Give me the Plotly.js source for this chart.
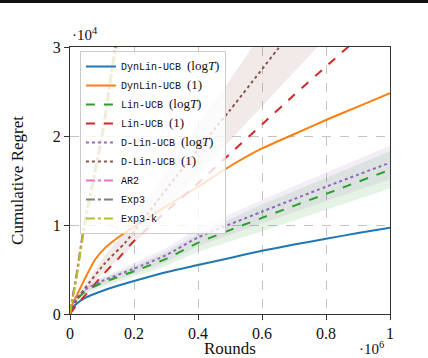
<!DOCTYPE html>
<html>
<head>
<meta charset="utf-8">
<script src="https://cdn.plot.ly/plotly-3.0.1.min.js"></script>
<style>
  body { margin: 0; background: #fff; }
  #chart { width: 428px; height: 358px; }
</style>
</head>
<body>
<div id="chart"></div>
<script>
// rounds in units of 1e6, regret in units of 1e4
var xBlue = [0, 0.005, 0.016, 0.047, 0.109, 0.2, 0.3, 0.4, 0.5, 0.6, 0.7, 0.8, 0.9, 1.0];
var yBlue = [0, 0.05, 0.10, 0.18, 0.27, 0.37, 0.47, 0.55, 0.63, 0.71, 0.78, 0.845, 0.91, 0.97];

var xOrange = [0, 0.005, 0.02, 0.047, 0.078, 0.109, 0.15, 0.2, 0.3, 0.4, 0.5, 0.6, 0.7, 0.8, 0.9, 1.0];
var yOrange = [0, 0.09, 0.20, 0.40, 0.61, 0.74, 0.86, 0.98, 1.21, 1.43, 1.66, 1.86, 2.02, 2.18, 2.33, 2.48];

var xLin = [0, 0.005, 0.02, 0.05, 0.1, 0.2, 0.3, 0.4, 0.6, 0.8, 1.0];
var yGreen = [0, 0.07, 0.16, 0.26, 0.35, 0.48, 0.62, 0.80, 1.08, 1.35, 1.62];
var greenLow = [0, 0.06, 0.14, 0.23, 0.30, 0.42, 0.54, 0.70, 0.93, 1.17, 1.41];
var greenHigh = [0, 0.08, 0.18, 0.29, 0.40, 0.54, 0.70, 0.90, 1.23, 1.53, 1.83];

var yPurple = [0, 0.08, 0.18, 0.28, 0.37, 0.51, 0.66, 0.86, 1.15, 1.43, 1.70];
var purpleLow = [0, 0.07, 0.16, 0.25, 0.33, 0.45, 0.58, 0.76, 1.02, 1.27, 1.51];
var purpleHigh = [0, 0.09, 0.20, 0.31, 0.41, 0.57, 0.74, 0.96, 1.28, 1.59, 1.89];

var xRed = [0, 0.02, 0.05, 0.1, 0.15, 0.2, 0.3, 0.4, 0.5, 0.6, 0.7, 0.8, 0.9, 1.0];
var yRed = [0, 0.10, 0.22, 0.43, 0.62, 0.82, 1.15, 1.47, 1.80, 2.13, 2.46, 2.78, 3.10, 3.42];

var xBrown = [0, 0.02, 0.047, 0.109, 0.172, 0.22, 0.35, 0.5, 0.65, 0.8, 1.0];
var yBrown = [0, 0.15, 0.29, 0.57, 0.80, 1.02, 1.63, 2.29, 2.98, 3.65, 4.55];
var brownLow = [0, 0.13, 0.25, 0.48, 0.68, 0.87, 1.38, 1.95, 2.53, 3.10, 3.87];
var brownHigh = [0, 0.17, 0.33, 0.66, 0.92, 1.17, 1.88, 2.63, 3.43, 4.20, 5.23];

var xFast = [0, 0.005, 0.02, 0.045, 0.1, 0.14, 0.2];
var yAR2 = [0, 0.13, 0.44, 1.02, 2.03, 2.98, 4.15];
var yExp3 = [0, 0.12, 0.42, 1.00, 2.00, 2.95, 4.10];
var yExp3k = [0, 0.11, 0.40, 0.97, 1.95, 2.90, 4.05];

var serif = 'Liberation Serif, DejaVu Serif, serif';
var mono = 'Liberation Mono, DejaVu Sans Mono, monospace';
function lg(s) { return '<span style="font-family:Liberation Serif;font-size:13px">' + s + '</span>'; }
var logT = lg('(log<i>T</i>)');
var one = lg('(1)');

function band(x, lo, hi, col) {
  return [
    {x: x, y: lo, mode: 'lines', line: {width: 0}, showlegend: false, hoverinfo: 'skip'},
    {x: x, y: hi, mode: 'lines', line: {width: 0}, fill: 'tonexty', fillcolor: col, showlegend: false, hoverinfo: 'skip'}
  ];
}

function line(x, y, name, color, dash) {
  return {x: x, y: y, mode: 'lines', name: name, line: {color: color, width: 2, dash: dash, shape: 'spline', smoothing: 0.6}};
}

var data = [].concat(
  band(xBrown, brownLow, brownHigh, 'rgba(140,86,75,0.12)'),
  band(xLin, greenLow, greenHigh, 'rgba(44,160,44,0.12)'),
  band(xLin, purpleLow, purpleHigh, 'rgba(148,103,189,0.12)'),
  [
    line(xBlue, yBlue, 'DynLin-UCB ' + logT, '#1f77b4', 'solid'),
    line(xOrange, yOrange, 'DynLin-UCB ' + one, '#ff7f0e', 'solid'),
    line(xLin, yGreen, 'Lin-UCB ' + logT, '#2ca02c', 'dash'),
    line(xRed, yRed, 'Lin-UCB ' + one, '#d62728', 'dash'),
    line(xLin, yPurple, 'D-Lin-UCB ' + logT, '#9467bd', 'dot'),
    line(xBrown, yBrown, 'D-Lin-UCB ' + one, '#8c564b', 'dot'),
    line(xFast, yAR2, 'AR2', '#e377c2', 'dashdot'),
    line(xFast, yExp3, 'Exp3', '#7f7f7f', 'dashdot'),
    line(xFast, yExp3k, 'Exp3-k', '#bcbd22', 'dashdot')
  ]
);

var axisCommon = {
  showline: true, mirror: true, linecolor: '#333', linewidth: 1,
  showgrid: true, gridcolor: '#c4c4c4', griddash: 'dash', gridwidth: 1,
  zeroline: false, ticks: 'outside', ticklen: 5, tickcolor: '#333',
  tickfont: {family: serif, size: 16, color: '#111'}
};

var layout = {
  width: 428, height: 358,
  margin: {l: 70, r: 38, t: 47, b: 44},
  paper_bgcolor: '#fff', plot_bgcolor: '#fff',
  showlegend: true,
  xaxis: Object.assign({}, axisCommon, {
    range: [0, 1], tickvals: [0, 0.2, 0.4, 0.6, 0.8, 1], ticktext: ['0', '0.2', '0.4', '0.6', '0.8', '1'],
    title: {text: 'Rounds', font: {family: serif, size: 17, color: '#111'}, standoff: 2}
  }),
  yaxis: Object.assign({}, axisCommon, {
    range: [0, 3], tickvals: [0, 1, 2, 3],
    title: {text: 'Cumulative Regret', font: {family: serif, size: 17, color: '#111'}, standoff: 24}
  }),
  legend: {
    x: 0.031, y: 0.985, xanchor: 'left', yanchor: 'top', traceorder: 'normal',
    bgcolor: 'rgba(255,255,255,0.8)', bordercolor: '#cccccc', borderwidth: 1,
    font: {family: mono, size: 10, color: '#111'}
  },
  annotations: [
    {xref: 'paper', yref: 'paper', x: 0, y: 1, xanchor: 'left', yanchor: 'bottom', yshift: 2,
     text: '·10<sup>4</sup>', showarrow: false, font: {family: serif, size: 15, color: '#111'}},
    {xref: 'paper', yref: 'paper', x: 1, y: 0, xanchor: 'right', yanchor: 'top', yshift: -23, xshift: -4,
     text: '·10<sup>6</sup>', showarrow: false, font: {family: serif, size: 15, color: '#111'}}
  ],
  shapes: [
    {type: 'rect', xref: 'paper', yref: 'paper', x0: -0.25, x1: 1.2, y0: 1.165, y1: 1.2,
     fillcolor: '#111', line: {width: 0}}
  ]
};

Plotly.newPlot('chart', data, layout, {displayModeBar: false, staticPlot: true});
</script>
</body>
</html>
